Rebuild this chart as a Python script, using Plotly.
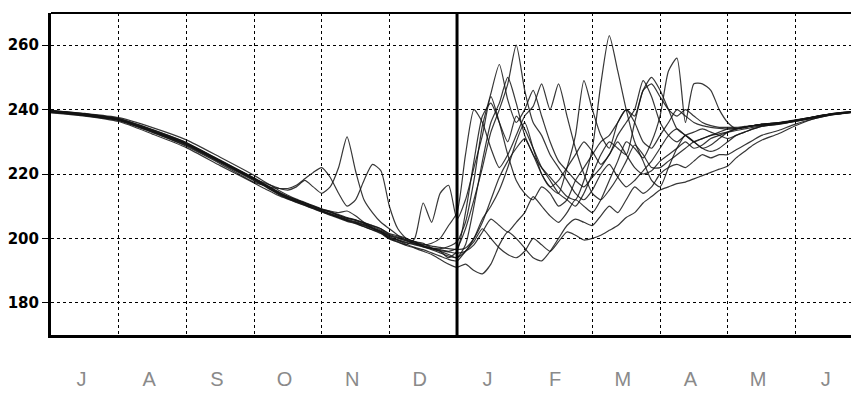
import plotly.graph_objects as go

# Month-index x positions (0 = 1 Jul, 6 = 1 Jan, 12 = next 1 Jul)
x_month = [0, 0.5, 1, 1.5, 2, 2.5] + [3 + 0.125 * i for i in range(61)] + [10.75, 11, 11.25, 11.5, 11.75, 12]

month_labels = ["J", "A", "S", "O", "N", "D", "J", "F", "M", "A", "M", "J"]
y_ticks = [180, 200, 220, 240, 260]
year_boundary = 6  # 1 January

s01 = [239.8, 238.7, 237.2, 233.8, 229.8, 224.3,
       218.8, 217.3, 215.8, 214.3, 213, 212, 211, 210, 209, 208.2,
       207.2, 206.3, 205.6, 204.6, 203.6, 202.6, 201, 200.2, 199.3, 198.6,
       197.8, 197, 196.5, 196, 197, 203, 212, 222, 233, 240,
       248, 260, 246, 236, 232, 226, 222, 218, 214, 212,
       215, 220, 223, 219, 216, 218, 221, 224, 228, 232,
       234, 232, 230, 231, 232, 233, 234, 234, 234.5, 235,
       235.2, 235.8, 236.6, 237.6, 238.5, 239.1, 239.6]
s02 = [239.3, 238.3, 236.8, 233.2, 229.2, 223.8,
       218.2, 216.8, 215.2, 213.7, 212.5, 211.6, 210.6, 209.5, 208.6, 207.6,
       206.7, 205.8, 205, 204.2, 203.2, 202, 200.3, 199.6, 198.8, 198.2,
       197.5, 197, 196.8, 197.5, 199, 205, 218, 235, 245, 254,
       243, 236, 240, 246, 238, 230, 224, 221, 218, 216,
       219, 222, 226, 230, 226, 222, 220, 221, 224, 226,
       228, 230, 228, 229, 231, 232, 233, 234, 234.5, 235,
       235.5, 236, 236.8, 237.7, 238.6, 239.2, 239.7]
s03 = [239.6, 238.6, 237.1, 233.6, 229.6, 224.1,
       218.6, 217, 215.4, 214, 212.9, 211.9, 210.9, 209.9, 208.9, 208.1,
       207.1, 206.2, 205.7, 204.8, 203.9, 203, 201.5, 200.8, 199.5, 198.5,
       198, 198.5, 200, 204, 208, 226, 240, 236, 228, 222,
       226, 232, 238, 241, 248, 240, 248, 238, 228, 220,
       214, 212, 215, 219, 224, 229, 226, 222, 222, 224,
       226, 228, 230, 231, 232, 232.5, 233, 233.5, 234, 234.5,
       235, 235.6, 236.4, 237.4, 238.4, 239, 239.5]
s04 = [239.4, 238.4, 236.9, 233.3, 229.3, 223.9,
       218.4, 217.5, 216.5, 215.5, 215, 216, 218, 216, 214, 216,
       222, 231.5, 221, 212, 208, 205, 203, 201, 200, 199,
       198.5, 197, 196, 195, 194, 198, 210, 224, 236, 242,
       250, 242, 232, 226, 220, 216, 214, 222, 232, 249,
       240, 232, 228, 236, 240, 236, 230, 228, 232, 236,
       240, 238, 236, 235, 234.5, 234.2, 234, 234.2, 234.6, 235,
       235.4, 235.8, 236.6, 237.6, 238.5, 239.2, 239.6]
s05 = [239.2, 238.2, 236.7, 233, 228.6, 223.2,
       217.4, 216.6, 215.8, 215.5, 215.5, 216.5, 218.5, 220.5, 222, 219,
       214, 210, 212, 218, 223, 221, 210, 203, 200, 199,
       197.5, 196.5, 195.5, 194.5, 194, 196, 200, 206, 210, 215,
       222, 230, 236, 228, 220, 216, 218, 222, 226, 230,
       227, 223, 226, 232, 236, 240, 249, 244, 236, 232,
       230, 232, 233, 234, 233, 232, 231, 232, 233, 234,
       234.8, 235.5, 236.4, 237.4, 238.4, 239, 239.5]
s06 = [239.5, 238.5, 237, 233.4, 229.4, 224,
       218.5, 217, 215.5, 214, 212.5, 211.5, 210.5, 209.5, 208.5, 207.5,
       206.5, 205.5, 204.7, 203.7, 202.7, 201.7, 200, 199, 198, 200,
       211, 205, 214, 216.5, 206, 212, 222, 232, 244, 236,
       226, 218, 214, 212, 216, 214, 210, 212, 218, 222,
       226, 230, 232, 236, 240, 238, 246, 248, 244, 240,
       238, 240, 238, 236, 235, 234.5, 234.5, 234.5, 234.8, 235,
       235.4, 235.9, 236.7, 237.6, 238.5, 239.1, 239.6]
s07 = [239.7, 238.8, 237.5, 234.4, 230.6, 225.2,
       219.6, 218, 216.4, 214.8, 213.4, 212.2, 211.2, 210.2, 209.2, 208.3,
       207.4, 206.5, 205.8, 204.9, 204, 203, 201.2, 200.4, 199.6, 198.9,
       198.2, 197.6, 197.2, 196.8, 196.5, 197, 200, 205, 212, 219,
       224, 228, 231, 226, 222, 219, 216, 213, 212, 218,
       228, 248, 263, 252, 240, 230, 224, 218, 216, 222,
       228, 232, 230, 228, 229, 231, 233, 234, 234.6, 235,
       235.4, 235.9, 236.7, 237.7, 238.6, 239.2, 239.7]
s08 = [239.1, 238.1, 236.6, 232.9, 228.9, 223.5,
       217.9, 216.6, 215, 213.5, 212.3, 211.3, 210.3, 209.3, 208.3, 207.4,
       206.5, 205.6, 204.9, 204, 203, 202, 200, 199.4, 198.6, 198,
       197.3, 196.8, 196.2, 195.8, 195.4, 196, 198, 202, 206, 204,
       202, 205, 208, 213, 210, 207, 205, 208, 212, 210,
       208, 212, 218, 224, 230, 228, 225, 230, 238, 252,
       256, 236, 248, 248, 246, 240, 236, 234, 234.5, 235,
       235.4, 235.9, 236.7, 237.6, 238.5, 239.1, 239.6]
s09 = [239.3, 238.3, 236.8, 233.2, 229.2, 223.7,
       218.2, 216.8, 215.3, 213.8, 212.6, 211.6, 210.6, 209.6, 208.6, 207.7,
       206.8, 205.9, 205.2, 204.3, 203.3, 202.3, 200.5, 199.5, 198.2, 197.2,
       196.5, 195.5, 194.5, 193.5, 193, 196, 199, 203, 200, 197,
       195, 194, 196, 200, 198, 196, 199, 202, 201, 199.5,
       200, 201, 202.5, 204, 206.5, 208, 211, 213, 215, 216,
       217, 217.5, 218.5, 219.5, 220.5, 221.5, 222.5, 225, 227, 229,
       230.5, 232.5, 235, 237, 238.3, 239, 239.5]
s10 = [239, 238, 236.3, 232.4, 228.2, 222.6,
       217.2, 215.8, 214.5, 213.2, 212.2, 211.2, 210.2, 209.2, 208.2, 207.2,
       206.3, 205.3, 204.6, 203.6, 202.6, 201.5, 199.8, 198.8, 197.8, 197,
       196, 195, 193.5, 192, 191, 192, 190, 189, 192, 198,
       202, 200, 197, 194, 193, 196, 200, 204, 206, 205,
       204, 207, 210, 208, 212, 216, 214, 216, 220, 222,
       223, 222, 224, 226, 225, 226, 226, 227.5, 229, 230.5,
       232, 233.5, 235.5, 237, 238.2, 238.9, 239.4]
s11 = [239.6, 238.7, 237.2, 233.7, 229.7, 224.2,
       218.7, 217.2, 215.7, 214.2, 213, 212, 211, 210, 209, 208.5,
       208, 208.5, 207, 205, 203.2, 202.2, 200.8, 200, 199.2, 198.4,
       197.6, 196.8, 196, 194, 196, 208, 224, 238, 242, 236,
       230, 238, 234, 228, 222, 218, 214, 212, 210, 214,
       220, 226, 230, 228, 226, 236, 246, 250, 246, 240,
       234, 232, 230, 228, 227, 228, 230, 232, 233, 234,
       234.8, 235.4, 236.3, 237.3, 238.3, 239, 239.5]

series = [s01, s02, s03, s04, s05, s06, s07, s08, s09, s10, s11]
for s in series:
    assert len(s) == len(x_month), len(s)

fig = go.Figure()
for s in series:
    fig.add_trace(go.Scatter(
        x=x_month, y=s, mode="lines",
        line=dict(color="rgba(20,20,20,0.85)", width=1.2, shape="spline", smoothing=0.6),
        showlegend=False, hoverinfo="skip"))

boundaries = [m for m in range(1, 12) if m != year_boundary]

# The page body has an 8px default margin; size the figure so the plot area
# lands where the reference has it.
fig.update_layout(
    width=851, height=390,
    margin=dict(l=43, r=0, t=5, b=63),
    paper_bgcolor="white", plot_bgcolor="white",
    xaxis=dict(
        range=[0, 11.94],
        tickmode="array",
        tickvals=[i + 0.45 for i in range(12)],
        ticktext=month_labels,
        tickfont=dict(size=20, color="#8a8a8a", family="Liberation Sans"),
        ticks="outside", ticklen=24, tickcolor="rgba(0,0,0,0)",
        showgrid=False, zeroline=False,
        showline=True, linecolor="black", linewidth=3,
        minor=dict(tickmode="array", tickvals=boundaries, showgrid=True,
                   griddash="dot", gridcolor="black", gridwidth=1, ticks=""),
    ),
    yaxis=dict(
        range=[170, 270],
        tickmode="array", tickvals=y_ticks,
        tickfont=dict(size=15, color="black", family="DejaVu Sans", weight="bold"),
        ticks="outside", ticklen=6, tickcolor="black", tickwidth=1,
        showgrid=True, griddash="dot", gridcolor="black", gridwidth=1,
        zeroline=False,
        showline=True, linecolor="black", linewidth=3,
    ),
    shapes=[
        dict(type="line", xref="paper", yref="paper", x0=0, x1=1, y0=1, y1=1,
             line=dict(color="black", width=2), layer="above"),
        dict(type="line", xref="x", yref="paper", x0=year_boundary, x1=year_boundary,
             y0=0, y1=1, line=dict(color="black", width=3), layer="above"),
    ],
)

fig.write_html("out.html")
